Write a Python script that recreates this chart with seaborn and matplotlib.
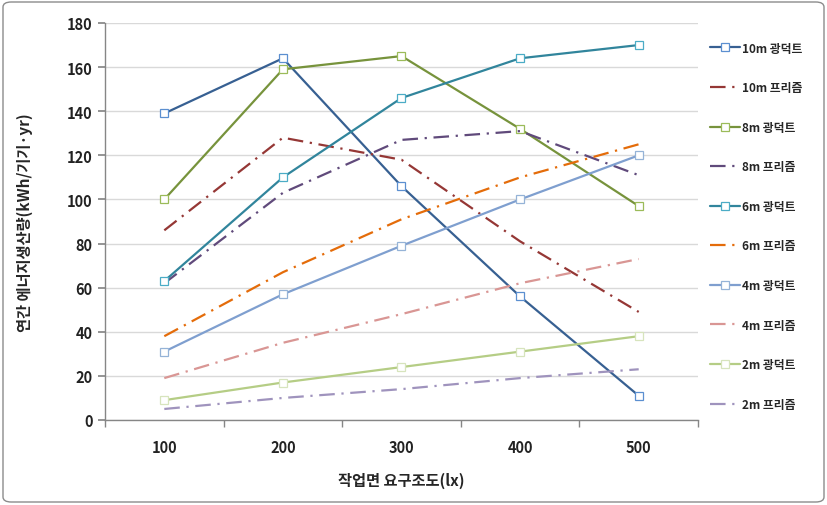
import matplotlib
matplotlib.use("Agg")
import matplotlib.pyplot as plt
import seaborn as sns
import pandas as pd
from matplotlib.patches import FancyBboxPatch

sns.set_theme(style="white")
plt.rcParams['font.family'] = ['Noto Sans CJK KR', 'DejaVu Sans']

x_vals = [100, 200, 300, 400, 500]
series_names = ["10m 광덕트", "10m 프리즘", "8m 광덕트", "8m 프리즘", "6m 광덕트",
                "6m 프리즘", "4m 광덕트", "4m 프리즘", "2m 광덕트", "2m 프리즘"]
duct10 = [139, 164, 106, 56, 11]
prism10 = [86, 128, 118, 81, 49]
duct8 = [100, 159, 165, 132, 97]
prism8 = [62, 103, 127, 131, 111]
duct6 = [63, 110, 146, 164, 170]
prism6 = [38, 67, 91, 110, 125]
duct4 = [31, 57, 79, 100, 120]
prism4 = [19, 35, 48, 62, 73]
duct2 = [9, 17, 24, 31, 38]
prism2 = [5, 10, 14, 19, 23]
values = [duct10, prism10, duct8, prism8, duct6, prism6, duct4, prism4, duct2, prism2]

colors = ["#376092", "#953735", "#77933c", "#604a7b", "#31859c",
          "#e46c0a", "#7f9fcf", "#d99694", "#b5cd85", "#9f93bd"]
marker_colors = ["#5b8fd0", "#953735", "#9bbb59", "#604a7b", "#4bacc6",
                 "#e46c0a", "#95b3d7", "#d99694", "#d7e4bd", "#9f93bd"]

rows = []
for name, vals in zip(series_names, values):
    for xv, yv in zip(x_vals, vals):
        rows.append({"x": xv, "y": yv, "series": name})
df = pd.DataFrame(rows)

fig = plt.figure(figsize=(8.27, 5.06), dpi=100)
ax = fig.add_axes([105/827, 1 - 421/506, (698-105)/827, (421-24)/506])

for i, name in enumerate(series_names):
    sub = df[df.series == name]
    is_duct = "광덕트" in name
    if is_duct:
        sns.lineplot(data=sub, x="x", y="y", ax=ax, color=colors[i], lw=1.6,
                     marker="s", markersize=5.5, markerfacecolor="white",
                     markeredgecolor=marker_colors[i], markeredgewidth=0.9,
                     label=name, legend=False)
    else:
        sns.lineplot(data=sub, x="x", y="y", ax=ax, color=colors[i], lw=1.6,
                     label=name, legend=False)
        ax.lines[-1].set_dashes([7, 3, 1, 3])

ax.set_xlim(50, 550)
ax.set_ylim(0, 180)
ax.set_yticks(range(0, 181, 20))
ax.set_xticks(x_vals)
ax.set_xticks([50, 150, 250, 350, 450, 550], minor=True)
ax.tick_params(axis="x", which="major", length=0, pad=14)
ax.tick_params(axis="x", which="minor", length=5, color="#868686", direction="out", bottom=True)
ax.tick_params(axis="y", length=5, color="#868686", direction="out", left=True, pad=4)
for lab in ax.get_xticklabels() + ax.get_yticklabels():
    lab.set_fontsize(10.5)
    lab.set_fontweight("bold")
    lab.set_color("#222222")

ax.grid(axis="y", color="#d9d9d9", lw=1)
ax.set_axisbelow(True)
for s in ["top", "right"]:
    ax.spines[s].set_visible(False)
for s in ["left", "bottom"]:
    ax.spines[s].set_color("#868686")
    ax.spines[s].set_linewidth(1)

ax.set_xlabel("작업면 요구조도(lx)", fontsize=11, fontweight="bold", labelpad=12)
ax.set_ylabel("연간 에너지생산량(kWh/기기·yr)", fontsize=11, fontweight="bold", labelpad=24)

handles, labels = ax.get_legend_handles_labels()
leg = fig.legend(handles, labels, loc="upper left", bbox_to_anchor=(699/827, 1 - 32/506),
                 frameon=False, handlelength=2.6, handletextpad=0.15,
                 labelspacing=2.25, prop={"size": 8.5, "weight": "bold"})

border = FancyBboxPatch((3/827, 3/506), 821/827, 500/506, boxstyle="round,pad=0,rounding_size=0.01",
                        transform=fig.transFigure, fill=False, edgecolor="#8c8c8c", lw=1)
fig.patches.append(border)

fig.savefig("out.png", dpi=100)
